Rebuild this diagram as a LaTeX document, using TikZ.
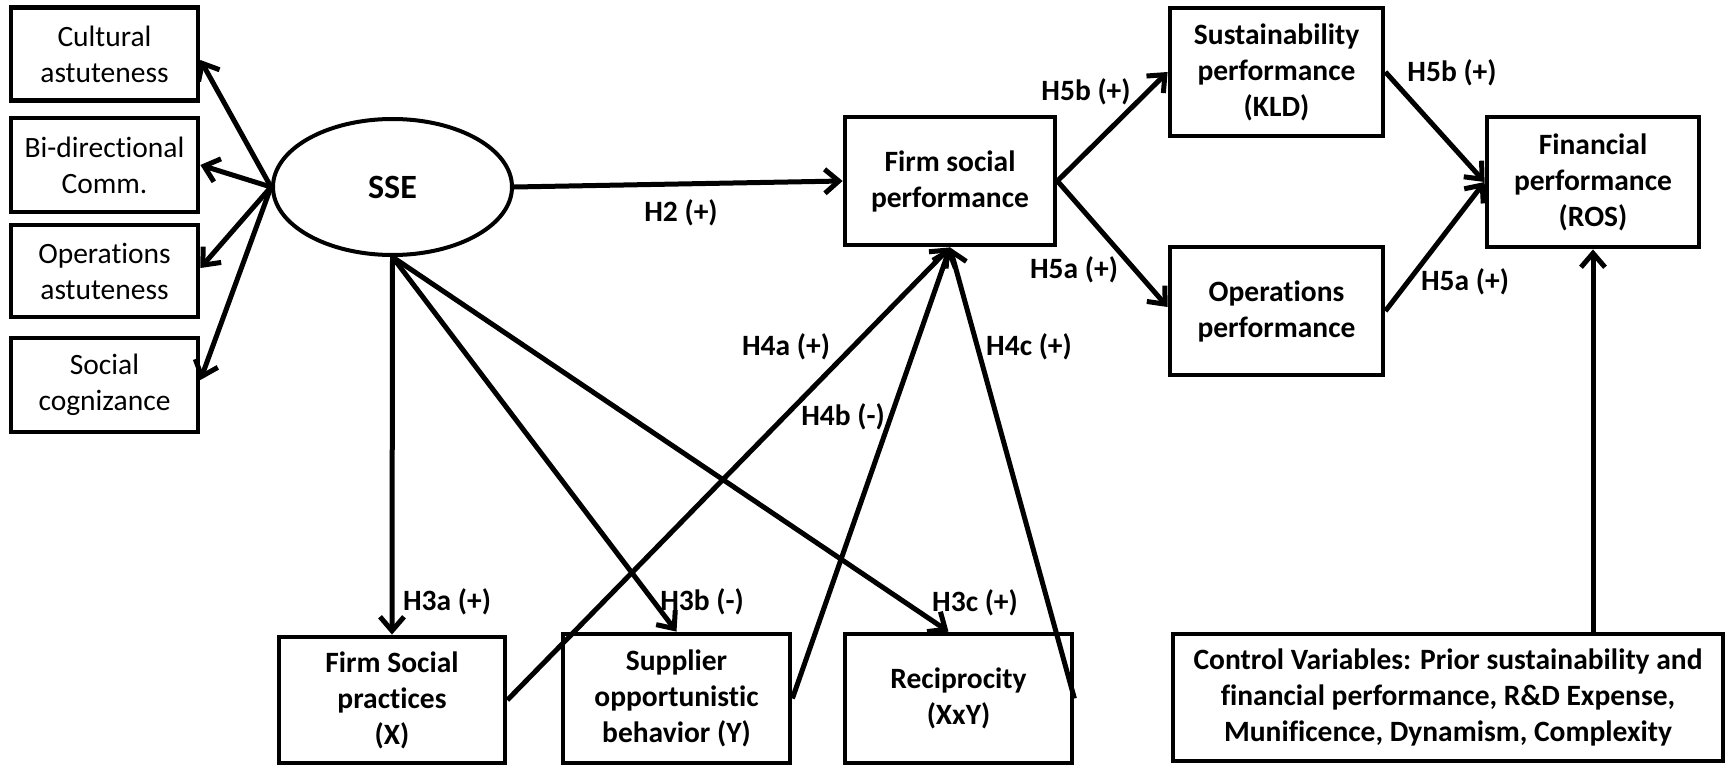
\documentclass[tikz,border=0pt]{standalone}
\usepackage{fontspec}
\setmainfont{Carlito}[Ligatures=NoCommon]
\usetikzlibrary{arrows.meta,shapes.geometric}
\begin{document}
\begin{tikzpicture}[x=1pt,y=-1pt,
  font=\fontsize{29.5}{36}\selectfont,
  box/.style={draw,line width=4.8pt,align=center,inner sep=0pt},
  boldtext/.style={font=\fontsize{29.5}{36}\selectfont\bfseries},
  hyp/.style={boldtext,inner sep=0pt},
  link/.style={line width=5pt,-{Straight Barb[length=14pt,width=24pt]}},
]
\useasboundingbox (0,0) rectangle (1726,765);

% dimensions of the SSE construct
\node[box,minimum width=187pt,minimum height=93pt] (cult)  at (104.5,54)  {Cultural\\astuteness};
\node[box,minimum width=187pt,minimum height=94pt] (bidir) at (104.5,165) {Bi-directional\\Comm.};
\node[box,minimum width=187pt,minimum height=92pt] (opsa)  at (104.5,271) {Operations\\astuteness};
\node[box,minimum width=187pt,minimum height=94pt] (soc)   at (104.5,385) {Social\\cognizance};

% latent construct
\node[draw,ellipse,line width=4pt,minimum width=239pt,minimum height=136pt,inner sep=0pt,font=\fontsize{34}{40}\selectfont\bfseries] (sse) at (392.5,187) {SSE};

% performance constructs
\node[box,boldtext,minimum width=210pt,minimum height=128pt] (fsp) at (950,181) {Firm social\\performance};
\node[box,boldtext,minimum width=213pt,minimum height=128pt] (sus) at (1276.5,72) {Sustainability\\performance\\(KLD)};
\node[box,boldtext,minimum width=213pt,minimum height=128pt] (opp) at (1276.5,311) {Operations\\performance};
\node[box,boldtext,minimum width=212pt,minimum height=130pt] (fin) at (1593,182) {Financial\\performance\\(ROS)};

% moderators and controls
\node[box,boldtext,minimum width=226pt,minimum height=126pt] (fsprac) at (392,700) {Firm Social\\practices\\(X)};
\node[box,boldtext,minimum width=227pt,minimum height=129pt] (supp)   at (676.5,698.5) {Supplier\\opportunistic\\behavior (Y)};
\node[box,boldtext,minimum width=227pt,minimum height=129pt] (recip)  at (958.5,698.5) {Reciprocity\\(XxY)};
\node[box,boldtext,minimum width=550pt,minimum height=127pt] (ctrl)   at (1448,697.5) {Control Variables: Prior sustainability and\\financial performance, R\&D Expense,\\Munificence, Dynamism, Complexity};

% paths
\draw[link] (sse.west) -- ([yshift=-6pt]cult.east);
\draw[link] (sse.west) -- (bidir.east);
\draw[link] (sse.west) -- ([yshift=3pt]opsa.east);
\draw[link] (sse.west) -- ([yshift=5pt]soc.east);

\draw[link] (sse.east) -- (fsp.west);
\draw[link] (sse.south) -- (fsprac.north);
\draw[link] (sse.south) -- (supp.north);
\draw[link] (sse.south) -- ([xshift=-10pt]recip.north);

\draw[link] (fsprac.east) -- (fsp.south);
\draw[link] (supp.east) -- (fsp.south);
\draw[link] (recip.east) -- (fsp.south);

\draw[link] (fsp.east) -- (sus.west);
\draw[link] (fsp.east) -- ([yshift=4pt]opp.west);
\draw[link] (sus.east) -- (fin.west);
\draw[link] (opp.east) -- (fin.west);
\draw[link] (ctrl.north -| fin.south) -- (fin.south);

% hypothesis labels
\node[hyp] (l2)   at (681,213)  {H2 (+)};
\node[hyp] (l3a)  at (447,602)  {H3a (+)};
\node[hyp] (l3b)  at (702,602)  {H3b (-)};
\node[hyp] (l3c)  at (975,603)  {H3c (+)};
\node[hyp] (l4a)  at (786,347)  {H4a (+)};
\node[hyp] (l4b)  at (843,417)  {H4b (-)};
\node[hyp] (l4c)  at (1029,347) {H4c (+)};
\node[hyp] (l5b1) at (1086,92)  {H5b (+)};
\node[hyp] (l5a1) at (1074,270) {H5a (+)};
\node[hyp] (l5b2) at (1452,73)  {H5b (+)};
\node[hyp] (l5a2) at (1465,282) {H5a (+)};
\end{tikzpicture}
\end{document}
